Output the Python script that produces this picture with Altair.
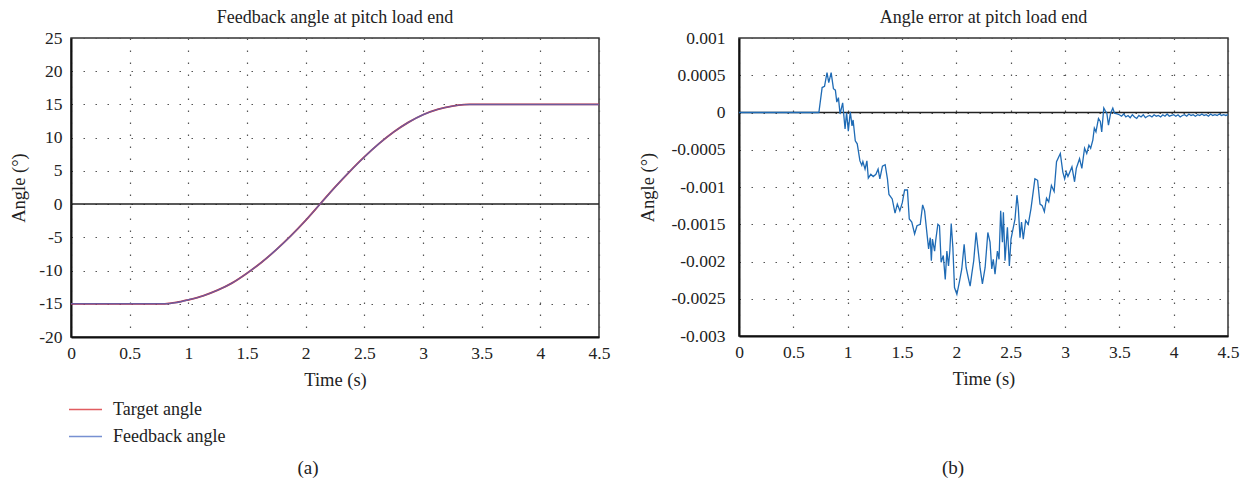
import altair as alt
import pandas as pd

FONT = "Liberation Serif"

# ---------------- panel (a) data ----------------
t_a = [0.0, 0.8, 0.9, 1.0, 1.125, 1.25, 1.375, 1.5, 1.625, 1.75, 1.875, 2.0, 2.125,
       2.25, 2.375, 2.5, 2.625, 2.75, 2.875, 3.0, 3.125, 3.25, 3.35, 3.4, 4.5]
target_angle = [-15, -15, -14.8, -14.4, -13.8, -12.95, -11.85, -10.4, -8.75, -6.85, -4.75,
                -2.45, 0.05, 2.55, 4.9, 7.1, 9.1, 10.85, 12.3, 13.45, 14.25, 14.75, 14.97, 15, 15]
feedback_angle = [-15, -15, -14.8, -14.4, -13.8, -12.95, -11.85, -10.4, -8.75, -6.85, -4.75,
                  -2.45, 0.05, 2.55, 4.9, 7.1, 9.1, 10.85, 12.3, 13.45, 14.25, 14.75, 14.97, 15, 15]

# ---------------- panel (b) data ----------------
t_b = [0.0, 0.735, 0.765, 0.787, 0.81, 0.826, 0.848, 0.869, 0.887, 0.90, 0.915, 0.93, 0.954,
       0.976, 0.99, 1.006, 1.024, 1.04, 1.05, 1.07, 1.088, 1.113, 1.13, 1.14, 1.16, 1.177,
       1.19, 1.213, 1.235, 1.26, 1.28, 1.296, 1.32, 1.345, 1.366, 1.38, 1.41, 1.436, 1.457,
       1.48, 1.503, 1.524, 1.55, 1.567, 1.59, 1.616, 1.638, 1.668, 1.69, 1.708, 1.73, 1.745,
       1.76, 1.77, 1.78, 1.80, 1.81, 1.83, 1.845, 1.86, 1.88, 1.898, 1.913, 1.928, 1.94,
       1.953, 1.968, 1.983, 2.005, 2.03, 2.05, 2.072, 2.09, 2.11, 2.127, 2.142, 2.16, 2.182,
       2.203, 2.22, 2.24, 2.265, 2.29, 2.31, 2.326, 2.34, 2.356, 2.378, 2.393, 2.408, 2.424,
       2.433, 2.448, 2.47, 2.488, 2.503, 2.518, 2.54, 2.558, 2.57, 2.586, 2.60, 2.616, 2.638,
       2.662, 2.687, 2.723, 2.748, 2.77, 2.79, 2.81, 2.83, 2.85, 2.875, 2.9, 2.922, 2.957,
       2.98, 2.997, 3.012, 3.027, 3.064, 3.088, 3.104, 3.134, 3.155, 3.18, 3.20, 3.22, 3.236,
       3.256, 3.27, 3.285, 3.308, 3.325, 3.338, 3.357, 3.372, 3.385, 3.40, 3.42, 3.44, 3.455,
       3.48]
err_b = [0, 0, 0.000335, 0.00035, 0.000536, 0.0004, 0.000536, 0.00032, 0.0003, 0.00014, 0.0002,
         -0.00002, 0.00013, -0.00022, 0.0, -0.00025, 0.00001, -0.00018, -0.0001, -0.00038,
         -0.00042, -0.00065, -0.00071, -0.00066, -0.00076, -0.00065, -0.00088, -0.00083,
         -0.00086, -0.00083, -0.00076, -0.00089, -0.00072, -0.0007, -0.00089, -0.0011,
         -0.00116, -0.00135, -0.00123, -0.00132, -0.00121, -0.00104, -0.00104, -0.00143,
         -0.00147, -0.00163, -0.00152, -0.0015, -0.00124, -0.00132, -0.00163, -0.00183,
         -0.00168, -0.00199, -0.0017, -0.00186, -0.00172, -0.0015, -0.00152, -0.00201,
         -0.00192, -0.00224, -0.00186, -0.00206, -0.00186, -0.00149, -0.00181, -0.00235,
         -0.00244, -0.00226, -0.0021, -0.00177, -0.00208, -0.00222, -0.00233, -0.00217,
         -0.00199, -0.00161, -0.00188, -0.0021, -0.0023, -0.00208, -0.00161, -0.00174,
         -0.0021, -0.00197, -0.00217, -0.00186, -0.00197, -0.00132, -0.00174, -0.00134,
         -0.00199, -0.00154, -0.00206, -0.0017, -0.00159, -0.00143, -0.00111, -0.00127,
         -0.00168, -0.00147, -0.0017, -0.00145, -0.0015, -0.00129, -0.00089, -0.00091,
         -0.00123, -0.00125, -0.00133, -0.00115, -0.0012, -0.00098, -0.00106, -0.00066,
         -0.00055, -0.0008, -0.00089, -0.0008, -0.00086, -0.00073, -0.00093, -0.00075,
         -0.00062, -0.00075, -0.00048, -0.00055, -0.00044, -0.00048, -0.00037, -0.00021,
         -0.00026, -0.00008, -0.00012, -0.00026, 0.00006, 0.00002, -0.00001, -0.00017,
         -0.00001, 0.00006, -0.00001, -0.00002]
# settled tail, 3.50 .. 4.50 every 0.02 s (units of 1e-5 degrees)
tail_b_e5 = [-3, -5, -2, -6, -4, -7, -3, -6, -8, -4, -6, -3, -7, -5, -4, -6, -3, -5, -4, -6,
             -3, -5, -2, -5, -4, -3, -5, -3, -6, -4, -3, -5, -2, -4, -3, -5, -3, -4, -2, -4,
             -3, -5, -2, -4, -3, -4, -2, -4, -3, -4, -3]
tail_t_start = 3.5
tail_t_step = 0.02

x_ticks = [0, 0.5, 1, 1.5, 2, 2.5, 3, 3.5, 4, 4.5]
ya_ticks = [-20, -15, -10, -5, 0, 5, 10, 15, 20, 25]
yb_ticks = [-0.003, -0.0025, -0.002, -0.0015, -0.001, -0.0005, 0, 0.0005, 0.001]

series_names = ["Target angle", "Feedback angle"]
series_colors = ["#d7262b", "#4a6cc4"]
err_color = "#1f6bb5"

# ---------------- build tables ----------------
df_a = pd.concat([
    pd.DataFrame({"t": t_a, "v": target_angle, "series": series_names[0]}),
    pd.DataFrame({"t": t_a, "v": feedback_angle, "series": series_names[1]}),
])
tail_t = [round(tail_t_start + i * tail_t_step, 4) for i in range(len(tail_b_e5))]
df_b = pd.DataFrame({"t": t_b + tail_t, "v": err_b + [e * 1e-5 for e in tail_b_e5]})

W_A, H_A = 528, 299
W_B, H_B = 489, 298

label_expr = "'' + datum.value"
common_kw = dict(grid=True, gridDash=[1.5, 10.5], gridColor="#555", gridWidth=1.2,
                 labelFont=FONT, labelFontSize=17.5, labelColor="#222", titleFont=FONT,
                 titleFontSize=18.5, titleFontWeight="normal", titleColor="#222",
                 labelOverlap=False, labelFlush=False, ticks=False,
                 domainColor="#111", domainWidth=2)

x_scale = alt.Scale(domain=[0, 4.5], nice=False)
ya_scale = alt.Scale(domain=[-20, 25], nice=False)
yb_scale = alt.Scale(domain=[-0.003, 0.001], nice=False, zero=False)

x_axis = alt.Axis(values=x_ticks, labelExpr=label_expr, title="Time (s)",
                  labelPadding=7, titlePadding=9, **common_kw)
ya_axis = alt.Axis(values=ya_ticks, labelExpr=label_expr, title="Angle (°)",
                   labelPadding=9, titlePadding=10, **common_kw)
yb_axis = alt.Axis(values=yb_ticks, labelExpr=label_expr, title="Angle (°)",
                   labelPadding=14, titlePadding=14, **common_kw)

color_scale = alt.Scale(domain=series_names, range=series_colors)
legend = alt.Legend(title=None, orient="none", legendX=-3, legendY=354, symbolType="stroke",
                    symbolSize=1089, symbolStrokeWidth=1.6, labelFontSize=18, labelFont=FONT,
                    labelColor="#222", labelOffset=10, rowPadding=-3)

# ---------------- panel (a) ----------------
base_a = alt.Chart(df_a)
enc_a = dict(
    x=alt.X("t:Q", scale=x_scale, axis=x_axis),
    y=alt.Y("v:Q", scale=ya_scale, axis=ya_axis),
    color=alt.Color("series:N", scale=color_scale, legend=legend, sort=series_names),
)
zero_a = alt.Chart(pd.DataFrame({"v": [0]})).mark_rule(color="#222", strokeWidth=1.5).encode(
    y=alt.Y("v:Q", scale=ya_scale, axis=ya_axis))
target_line = base_a.transform_filter(alt.datum.series == series_names[0]).mark_line(
    strokeWidth=1.8, interpolate="monotone").encode(**enc_a)
feedback_line = base_a.transform_filter(alt.datum.series == series_names[1]).mark_line(
    strokeWidth=1.4, opacity=0.75, interpolate="monotone").encode(**enc_a)
tag_a = alt.Chart(pd.DataFrame({"s": ["(a)"]})).mark_text(
    font=FONT, fontSize=19, color="#222").encode(
    text="s:N", x=alt.value(237), y=alt.value(430))

left = alt.layer(zero_a, target_line, feedback_line, tag_a).properties(
    width=W_A, height=H_A,
    title=alt.TitleParams("Feedback angle at pitch load end", font=FONT, fontSize=18,
                          fontWeight="normal", color="#222", offset=2, anchor="middle"))

# ---------------- panel (b) ----------------
base_b = alt.Chart(df_b)
zero_b = alt.Chart(pd.DataFrame({"v": [0]})).mark_rule(color="#222", strokeWidth=1.5).encode(
    y=alt.Y("v:Q", scale=yb_scale, axis=yb_axis))
err_line = base_b.mark_line(color=err_color, strokeWidth=1.3).encode(
    x=alt.X("t:Q", scale=x_scale, axis=x_axis),
    y=alt.Y("v:Q", scale=yb_scale, axis=yb_axis),
)
tag_b = alt.Chart(pd.DataFrame({"s": ["(b)"]})).mark_text(
    font=FONT, fontSize=19, color="#222").encode(
    text="s:N", x=alt.value(214), y=alt.value(430))

right = alt.layer(zero_b, err_line, tag_b).properties(
    width=W_B, height=H_B,
    title=alt.TitleParams("Angle error at pitch load end", font=FONT, fontSize=18,
                          fontWeight="normal", color="#222", offset=2, anchor="middle"))

chart = alt.hconcat(left, right, spacing=26).properties(
    padding={"left": 0, "top": 0, "right": 0, "bottom": 0}, background="white"
).configure_view(stroke="#333", strokeWidth=1.5)

chart.save("out.html", embed_options={"renderer": "svg", "actions": False})
